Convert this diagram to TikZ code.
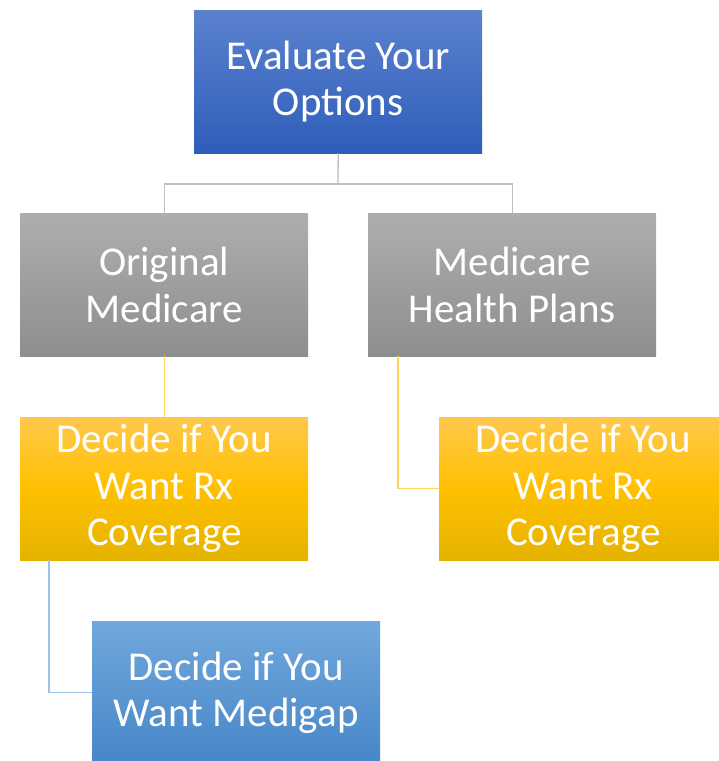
\documentclass[tikz,border=0pt]{standalone}
\usepackage{fontspec}
\setmainfont{Carlito}
\definecolor{bltop}{HTML}{5C82CF}
\definecolor{blbot}{HTML}{2E5DB9}
\definecolor{grtop}{HTML}{AEAEAE}
\definecolor{grbot}{HTML}{8E8E8E}
\definecolor{yetop}{HTML}{FFC84C}
\definecolor{yemid}{HTML}{FFC000}
\definecolor{yebot}{HTML}{E4B300}
\definecolor{lbtop}{HTML}{71A8DD}
\definecolor{lbbot}{HTML}{4786C8}
\definecolor{lgray}{HTML}{BFBFBF}
\definecolor{lyel}{HTML}{FFD45C}
\definecolor{lblue}{HTML}{9DC3E6}
\tikzset{
  box/.style={anchor=north west, minimum width=288pt, minimum height=143pt, inner sep=0pt,
    text=white, align=center, font=\fontsize{41}{46.5}\selectfont},
  bluebox/.style={box, top color=bltop, bottom color=blbot},
  graybox/.style={box, top color=grtop, bottom color=grbot},
  yelbox/.style={box, top color=yetop, bottom color=yebot, middle color=yemid},
  lbbox/.style={box, top color=lbtop, bottom color=lbbot},
  conn/.style={line width=1.3pt}
}
\begin{document}
\begin{tikzpicture}[x=1pt,y=-1pt]
\useasboundingbox (0,0) rectangle (719,761);
\clip (0,0) rectangle (719,761);
\node[bluebox] (top) at (194,10) {Evaluate Your\\Options};
\node[graybox] (gl) at (20,213) {Original\\Medicare};
\node[graybox] (gr) at (368,213) {Medicare\\Health Plans};
\node[yelbox] (yl) at (20,417) {Decide if You\\Want Rx\\Coverage};
\node[yelbox] (yr) at (439,417) {Decide if You\\Want Rx\\Coverage};
\node[lbbox] (bb) at (92,621) {Decide if You\\Want Medigap};
\coordinate (j) at (338,184);
\draw[conn, lgray] (top.south) -- (j);
\draw[conn, lgray] (j) -| (gl.north);
\draw[conn, lgray] (j) -| (gr.north);
\draw[conn, lyel] (gl.south) -- (yl.north);
\draw[conn, lyel] ([xshift=30pt]gr.south west) |- (yr.west);
\draw[conn, lblue] ([xshift=29pt]yl.south west) |- (bb.west);
\end{tikzpicture}
\end{document}
